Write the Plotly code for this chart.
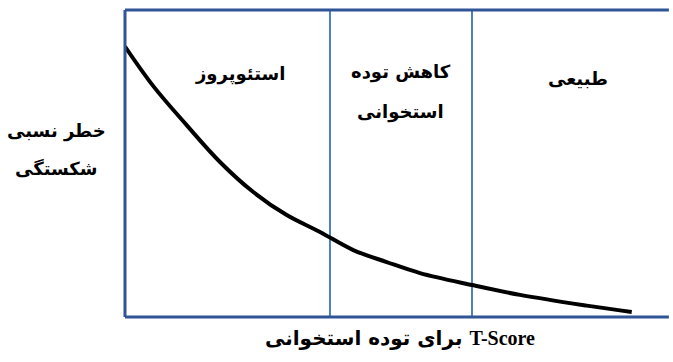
import plotly.graph_objects as go

# Fracture risk curve against bone-density T-score
t_score = [-4.665, -4.366, -4.014, -3.662, -3.310, -2.957, -2.606, -2.254,
           -1.901, -1.549, -0.997, -0.493, 0.211, 0.687]
relative_risk = [88.1, 75.2, 62.5, 50.5, 40.7, 33.2, 27.7, 21.8,
                 17.9, 14.3, 10.4, 7.2, 3.7, 1.6]

# Zone boundaries (T-score thresholds)
thresholds = [-2.5, -1.0]

# Label lines
zone_labels = ["استئوپروز", "کاهش توده", "استخوانی", "طبیعی"]
y_title_lines = ["خطر نسبی", "شکستگی"]
x_title_fa = "برای توده استخوانی"
x_title_en = "T-Score"

FA_FONT = "DejaVu Sans"
FRAME = "#2F5597"
DIVIDER = "#4F81BD"
FS = 18

fig = go.Figure()
fig.add_trace(go.Scatter(
    x=t_score, y=relative_risk, mode="lines",
    line=dict(color="black", width=4, shape="spline", smoothing=1.0),
    hoverinfo="skip", showlegend=False,
))

for t in thresholds:
    fig.add_shape(type="line", xref="x", yref="paper", x0=t, x1=t, y0=0, y1=1,
                  line=dict(color=DIVIDER, width=2), layer="below")

# open frame: left edge, plus top and bottom edges running off to the right
for x0, y0, x1, y1 in [(0, 0, 0, 1), (0, 1, 1.05, 1), (0, 0, 1.05, 0)]:
    fig.add_shape(type="line", xref="paper", yref="paper", x0=x0, y0=y0, x1=x1, y1=y1,
                  line=dict(color=FRAME, width=3))


def label(txt, px, py, size=FS):
    fig.add_annotation(text=f"<b>{txt}</b>", x=px, y=py, xref="paper", yref="paper",
                       xanchor="center", yanchor="middle", showarrow=False,
                       font=dict(family=FA_FONT, size=size, color="black"))


label_pos = [(0.2220, 0.7915), (0.5328, 0.798), (0.5328, 0.668), (0.8745, 0.7785)]
for txt, (px, py) in zip(zone_labels, label_pos):
    label(txt, px, py)

for txt, py in zip(y_title_lines, [0.606, 0.485]):
    label(txt, -0.1313, py)

label(f"{x_title_fa} <span style='font-family:Liberation Serif'>{x_title_en}</span>",
      0.5309, -0.0684, size=20)

fig.update_xaxes(range=[-4.665, 0.806], showline=False, showgrid=False, zeroline=False,
                 showticklabels=False, ticks="")
fig.update_yaxes(range=[0, 100], showline=False, showgrid=False, zeroline=False,
                 showticklabels=False, ticks="")

fig.update_layout(
    width=673, height=362,
    margin=dict(l=125, r=30, t=10, b=45),
    plot_bgcolor="white", paper_bgcolor="white",
)

fig.write_html("out.html")
